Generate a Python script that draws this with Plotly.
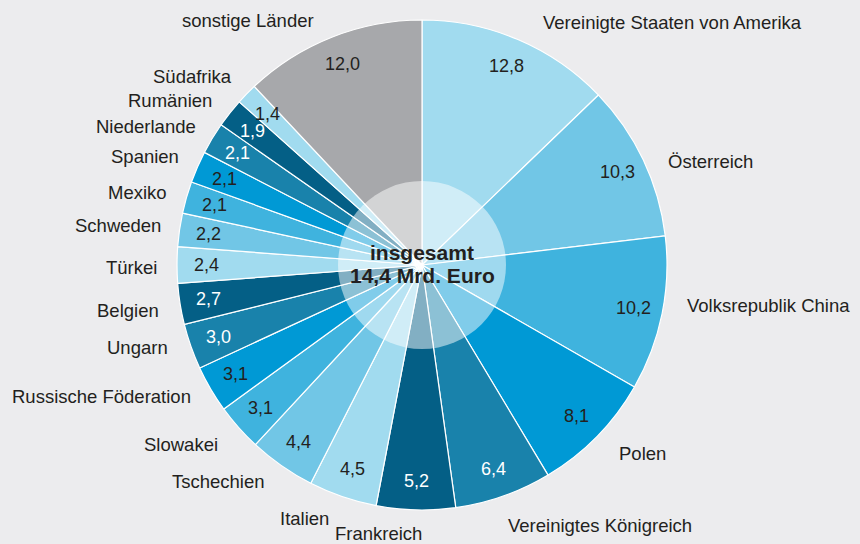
import math
import plotly.graph_objects as go

countries = ["Vereinigte Staaten von Amerika", "Österreich", "Volksrepublik China", "Polen",
             "Vereinigtes Königreich", "Frankreich", "Italien", "Tschechien", "Slowakei",
             "Russische Föderation", "Ungarn", "Belgien", "Türkei", "Schweden", "Mexiko",
             "Spanien", "Niederlande", "Rumänien", "Südafrika", "sonstige Länder"]
shares = [12.8, 10.3, 10.2, 8.1, 6.4, 5.2, 4.5, 4.4, 3.1, 3.1, 3.0, 2.7, 2.4, 2.2, 2.1,
          2.1, 2.1, 1.9, 1.4, 12.0]
center_lines = ["insgesamt", "14,4 Mrd. Euro"]

blues = ["#a1dbef", "#71c6e6", "#3fb3de", "#0099d5", "#1982ab", "#045f86"]
gray = "#a7a8ab"
colors = [blues[i % 6] for i in range(len(shares) - 1)] + [gray]
dark_text = "#231f20"
value_colors = ["white" if c in ("#1982ab", "#045f86") else dark_text for c in colors]

W, H = 860, 544
CX, CY = 422, 265          # pixel centre (from top)
R = 245                    # pie radius px
R_IN = 84                  # inner circle radius px
R_VAL = 216                # radius for value labels
R_LAB = 270                # radius for country labels

# small layout nudges (px, right / down) for the outer labels
label_nudge = {
    "Vereinigte Staaten von Amerika": (13, 6),
    "Österreich": (0, 12),
    "Volksrepublik China": (-2, -13),
    "Polen": (2, -1),
    "Vereinigtes Königreich": (-6, 6),
    "Frankreich": (9, -1),
    "Italien": (-4, -2),
    "Tschechien": (0, -5),
    "Russische Föderation": (4, -5),
    "Ungarn": (3, -7),
    "Belgien": (6, 2),
    "Türkei": (7, 2),
    "Schweden": (8, -1),
    "Mexiko": (7, 2),
    "Spanien": (6, 0),
    "Niederlande": (7, 1),
    "Rumänien": (4, 3),
    "Südafrika": (5, 0),
    "sonstige Länder": (-7, 7),
}

cy_b = H - CY              # centre from bottom

fig = go.Figure()
fig.add_trace(go.Pie(
    labels=countries, values=shares, sort=False, direction="clockwise", rotation=0,
    marker=dict(colors=colors, line=dict(color="white", width=1.2)),
    textinfo="none", hoverinfo="label+value", showlegend=False,
    domain=dict(x=[(CX - R) / W, (CX + R) / W], y=[(cy_b - R) / H, (cy_b + R) / H]),
))

total = sum(shares)
annotations = []
cum = 0.0
font_family = "Liberation Sans, Arial, Helvetica, sans-serif"
for name, v, vc in zip(countries, shares, value_colors):
    mid = (cum + v / 2) / total * 2 * math.pi
    cum += v
    s, c = math.sin(mid), math.cos(mid)
    # value label
    annotations.append(dict(
        x=(CX + R_VAL * s) / W, y=(cy_b + R_VAL * c) / H, xref="paper", yref="paper",
        text=f"{v:.1f}".replace(".", ","), showarrow=False,
        xanchor="center", yanchor="middle",
        font=dict(family=font_family, size=18, color=vc)))
    # country label
    dx, dy = label_nudge.get(name, (0, 0))
    annotations.append(dict(
        x=(CX + R_LAB * s + dx) / W, y=(cy_b + R_LAB * c - dy) / H, xref="paper", yref="paper",
        text=name, showarrow=False,
        xanchor="left" if s >= 0 else "right", yanchor="middle",
        font=dict(family=font_family, size=18.5, color=dark_text)))

for i, line in enumerate(center_lines):
    annotations.append(dict(
        x=CX / W, y=(cy_b + 13 - 23 * i) / H, xref="paper", yref="paper",
        text=f"<b>{line}</b>", showarrow=False, xanchor="center", yanchor="middle",
        font=dict(family=font_family, size=21, color=dark_text)))

fig.update_layout(
    width=W, height=H, margin=dict(l=0, r=0, t=0, b=0),
    paper_bgcolor="#ececee", plot_bgcolor="#ececee",
    annotations=annotations,
    shapes=[dict(type="circle", xref="paper", yref="paper",
                 x0=(CX - R_IN) / W, x1=(CX + R_IN) / W,
                 y0=(cy_b - R_IN) / H, y1=(cy_b + R_IN) / H,
                 fillcolor="rgba(255,255,255,0.5)", line=dict(width=0), layer="above")],
)

fig.write_html("out.html", config={"displayModeBar": False},
               post_script="document.body.style.margin='0';document.body.style.overflow='hidden';")
